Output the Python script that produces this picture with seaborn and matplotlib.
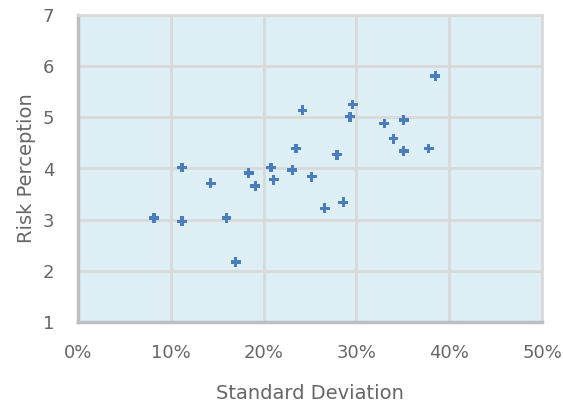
import matplotlib
matplotlib.use("Agg")
import matplotlib.pyplot as plt
import seaborn as sns
import pandas as pd
from matplotlib.ticker import PercentFormatter

# Standard deviation (fraction) and risk perception score for each asset
std_dev = [0.082, 0.112, 0.112, 0.143, 0.160, 0.170, 0.184, 0.191, 0.208, 0.211,
           0.231, 0.235, 0.242, 0.252, 0.266, 0.279, 0.286, 0.293, 0.296, 0.330,
           0.340, 0.351, 0.351, 0.378, 0.385]
risk_perception = [3.03, 4.02, 2.97, 3.71, 3.03, 2.17, 3.91, 3.66, 4.02, 3.78,
                   3.97, 4.39, 5.14, 3.84, 3.22, 4.27, 3.34, 5.01, 5.25, 4.88,
                   4.58, 4.95, 4.34, 4.39, 5.81]
x_ticks = [0.0, 0.1, 0.2, 0.3, 0.4, 0.5]
y_ticks = [1, 2, 3, 4, 5, 6, 7]

df = pd.DataFrame({"Standard Deviation": std_dev, "Risk Perception": risk_perception})

sns.set_theme(style="white")
plt.rcParams["font.family"] = ["DejaVu Sans"]

W, H = 563, 408
fig = plt.figure(figsize=(W / 100, H / 100), dpi=100)
ax = fig.add_axes([78 / W, 1 - 322 / H, 464 / W, 307 / H])
ax.set_facecolor("#ddeef4")

sns.scatterplot(data=df, x="Standard Deviation", y="Risk Perception", ax=ax,
                marker="P", s=50, color="#4a7dbd", edgecolor="none", zorder=3)

ax.set_xlim(0, 0.5)
ax.set_ylim(1, 7)
ax.set_xticks(x_ticks)
ax.set_yticks(y_ticks)
ax.xaxis.set_major_formatter(PercentFormatter(1.0, decimals=0))

ax.grid(True, color="#d9d9d9", linewidth=2.0, zorder=1)
ax.set_axisbelow(True)
for side in ["top", "right"]:
    ax.spines[side].set_color("#d9d9d9")
    ax.spines[side].set_linewidth(2.0)
for side in ["left", "bottom"]:
    ax.spines[side].set_color("#bfbfbf")
    ax.spines[side].set_linewidth(2.5)

ax.tick_params(axis="both", length=0, labelsize=13, labelcolor="#666666")
ax.tick_params(axis="y", pad=17)
ax.tick_params(axis="x", pad=16)

ax.set_xlabel("")
ax.set_ylabel("")
fig.text(310 / W, 1 - 399 / H, "Standard Deviation", fontsize=14,
         color="#666666", ha="center", va="baseline")
fig.text(32 / W, 1 - 168 / H, "Risk Perception", fontsize=14,
         color="#666666", ha="center", va="baseline",
         rotation=90, rotation_mode="anchor")

fig.savefig("out.png", dpi=100)
